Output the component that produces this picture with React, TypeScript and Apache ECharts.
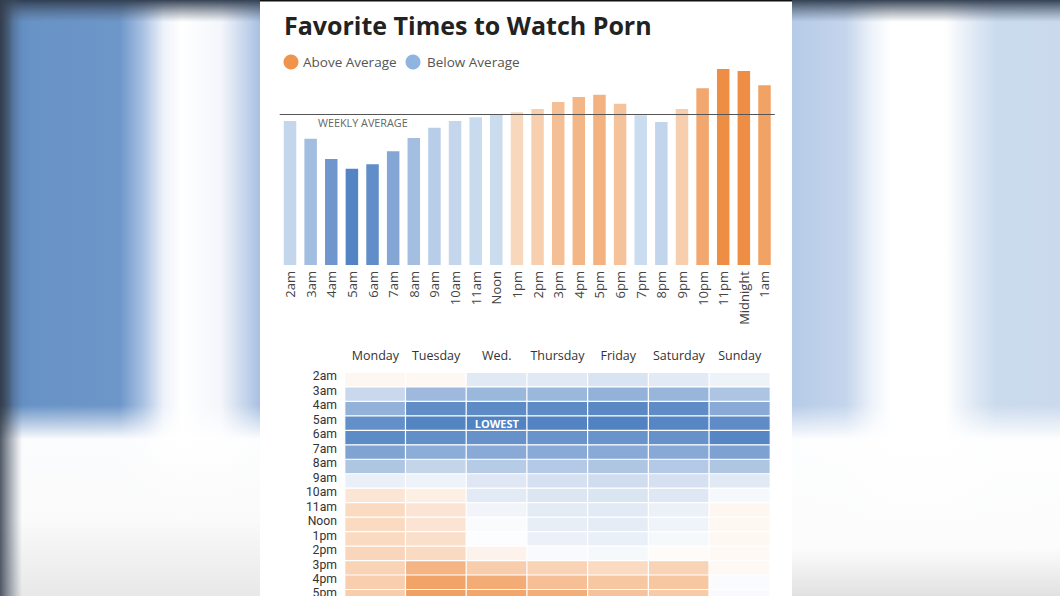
import React, { useEffect, useRef } from "react";
import * as echarts from "echarts";

const hours = ["2am","3am","4am","5am","6am","7am","8am","9am","10am","11am","Noon","1pm","2pm","3pm","4pm","5pm","6pm","7pm","8pm","9pm","10pm","11pm","Midnight","1am"];
const hourlyIndex = [95.6,83.8,70.3,63.9,66.8,75.4,84.3,91.1,95.6,98.0,99.6,101.3,103.5,108.2,111.5,113.0,107.0,99.4,94.9,103.5,117.3,130.1,128.7,119.2];
const weeklyAverage = 100;

const days = ["Monday","Tuesday","Wed.","Thursday","Friday","Saturday","Sunday"];
const heatRows = ["2am","3am","4am","5am","6am","7am","8am","9am","10am","11am","Noon","1pm","2pm","3pm","4pm","5pm"];
const heatValues = [
  [8, 6, -18, -18, -22, -17, -10],
  [-31, -56, -58, -58, -62, -59, -47],
  [-62, -91, -93, -93, -95, -92, -68],
  [-89, -98, -100, -99, -100, -97, -92],
  [-93, -90, -88, -86, -86, -88, -97],
  [-73, -66, -68, -68, -68, -69, -75],
  [-46, -34, -42, -43, -46, -43, -46],
  [-12, -10, -19, -24, -27, -24, -18],
  [21, 14, -17, -20, -21, -19, -5],
  [32, 23, -8, -16, -17, -11, 7],
  [32, 23, -3, -14, -15, -9, 6],
  [32, 27, -2, -11, -12, -5, 6],
  [35, 32, 10, -4, -5, 3, 5],
  [38, 64, 43, 38, 32, 38, 5],
  [42, 78, 71, 55, 48, 48, -3],
  [43, 81, 76, 70, 52, 45, -4],
];
const lowestLabel = "LOWEST";

const FONT = "'Open Sans', sans-serif";
const ROW_FONT = "Roboto, sans-serif";
const H = 620;

function mix(a: number[], b: number[], t: number) {
  const c = a.map((v, i) => Math.round(v + (b[i] - v) * t));
  return `rgb(${c[0]},${c[1]},${c[2]})`;
}
function barColor(v: number) {
  if (v < weeklyAverage) {
    const t = Math.pow(Math.min(1, (weeklyAverage - v) / 36), 1.3);
    return mix([203, 220, 239], [85, 132, 196], t);
  }
  const t = Math.pow(Math.min(1, (v - weeklyAverage) / 28), 0.75);
  return mix([249, 224, 203], [238, 142, 68], t);
}

export default function App() {
  const ref = useRef<HTMLDivElement>(null);
  useEffect(() => {
    const chart = echarts.init(ref.current!, undefined, { renderer: "svg" });
    const heatData: any[] = [];
    heatValues.forEach((row, r) =>
      row.forEach((v, c) => {
        const isLowest = r === 3 && c === 2;
        heatData.push(
          isLowest
            ? {
                value: [c, r, v],
                label: {
                  show: true,
                  formatter: lowestLabel,
                  color: "#fff",
                  fontWeight: "bold",
                  fontSize: 11,
                  lineHeight: 13,
                  fontFamily: FONT,
                },
              }
            : { value: [c, r, v] }
        );
      })
    );
    const hGrad = (stops: [number, string][]) => ({
      type: "linear", x: 0, y: 0, x2: 1, y2: 0,
      colorStops: stops.map(([o, c]) => ({ offset: o, color: c })),
    });
    const vGrad = (stops: [number, string][]) => ({
      type: "linear", x: 0, y: 0, x2: 0, y2: 1,
      colorStops: stops.map(([o, c]) => ({ offset: o, color: c })),
    });
    chart.setOption({
      animation: false,
      backgroundColor: "#ffffff",
      graphic: [
        { type: "rect", z: -10, shape: { x: 0, y: 0, width: 260, height: H }, style: { fill: hGrad([[0, "#34465c"], [0.05, "#5f89bd"], [0.12, "#6893c6"], [0.46, "#6d96c9"], [0.55, "#a9c1e2"], [0.63, "#eef3fa"], [0.7, "#ffffff"], [0.85, "#f3f6fb"], [1, "#a8c0e2"]]) } },
        { type: "rect", z: -10, shape: { x: 792, y: 0, width: 268, height: H }, style: { fill: hGrad([[0, "#b6cbe8"], [0.2, "#c4d5ec"], [0.3, "#eef3fa"], [0.37, "#ffffff"], [0.57, "#ffffff"], [0.68, "#dfe8f4"], [0.76, "#cbdbee"], [1, "#cad9ec"]]) } },
        { type: "rect", z: -9, shape: { x: 0, y: 405, width: 260, height: 191 }, style: { fill: vGrad([[0, "rgba(255,255,255,0)"], [0.18, "rgba(255,255,255,0.97)"], [0.6, "rgba(250,250,250,1)"], [1, "rgba(232,232,232,1)"]]) } },
        { type: "rect", z: -9, shape: { x: 792, y: 405, width: 268, height: 191 }, style: { fill: vGrad([[0, "rgba(255,255,255,0)"], [0.18, "rgba(255,255,255,0.97)"], [0.75, "rgba(252,252,252,1)"], [1, "rgba(225,225,225,1)"]]) } },
        { type: "rect", z: -8, shape: { x: 0, y: 0, width: 1060, height: 22 }, style: { fill: vGrad([[0, "rgba(45,58,76,0.95)"], [1, "rgba(80,95,115,0)"]]) } },
        { type: "rect", z: -8, shape: { x: 0, y: 0, width: 22, height: H }, style: { fill: hGrad([[0, "rgba(50,60,75,0.85)"], [1, "rgba(80,95,115,0)"]]) } },
        { type: "rect", z: -5, shape: { x: 260, y: 0, width: 532, height: H }, style: { fill: "#ffffff" } },
        { type: "rect", z: -4, shape: { x: 260, y: 0, width: 532, height: 1.5 }, style: { fill: "#111" } },
        { type: "text", z: 10, x: 284, y: 25, style: { text: "Favorite Times to Watch Porn", font: `bold 25px ${FONT}`, fill: "#222", verticalAlign: "middle" } },
        { type: "circle", z: 10, shape: { cx: 291, cy: 62, r: 7.5 }, style: { fill: "#f0944d" } },
        { type: "text", z: 10, x: 303, y: 62, style: { text: "Above Average", font: `13.5px ${FONT}`, fill: "#555", verticalAlign: "middle" } },
        { type: "circle", z: 10, shape: { cx: 413, cy: 62, r: 7.5 }, style: { fill: "#8fb4e0" } },
        { type: "text", z: 10, x: 427, y: 62, style: { text: "Below Average", font: `13.5px ${FONT}`, fill: "#555", verticalAlign: "middle" } },
        { type: "text", z: 10, x: 318, y: 122, style: { text: "WEEKLY AVERAGE", font: `10.8px ${FONT}`, fill: "#666", verticalAlign: "middle" } },
      ],
      grid: [
        { left: 279.7, width: 495.1, top: 54, height: 211, containLabel: false },
        { left: 345, width: 425, top: 372.7, height: 231.5, containLabel: false },
      ],
      xAxis: [
        {
          type: "category", gridIndex: 0, data: hours,
          axisLine: { show: false }, axisTick: { show: false },
          axisLabel: { rotate: 90, margin: 6, fontSize: 13, color: "#444", fontFamily: FONT, interval: 0 },
        },
        {
          type: "category", gridIndex: 1, data: days, position: "top",
          axisLine: { show: false }, axisTick: { show: false }, splitLine: { show: false },
          axisLabel: { margin: 11, fontSize: 12.5, color: "#333", fontFamily: FONT, interval: 0 },
        },
      ],
      yAxis: [
        { type: "value", gridIndex: 0, min: 0, max: 140, show: false, splitLine: { show: false } },
        {
          type: "category", gridIndex: 1, data: heatRows, inverse: true,
          axisLine: { show: false }, axisTick: { show: false }, splitLine: { show: false },
          axisLabel: { margin: 8, fontSize: 12.2, lineHeight: 7, verticalAlign: "bottom", color: "#333", fontFamily: ROW_FONT, interval: 0 },
        },
      ],
      visualMap: {
        show: false, type: "continuous", seriesIndex: 1, dimension: 2,
        min: -100, max: 100,
        inRange: { color: ["#5182c2", "#ffffff", "#ee8a3e"] },
      },
      series: [
        {
          type: "bar", xAxisIndex: 0, yAxisIndex: 0, data: hourlyIndex, barWidth: 12.5,
          itemStyle: { color: (p: any) => barColor(p.value) },
          markLine: {
            silent: true, symbol: "none",
            lineStyle: { color: "#555", width: 1.2, type: "solid" },
            label: { show: false },
            data: [{ yAxis: weeklyAverage }],
          },
        },
        {
          type: "heatmap", xAxisIndex: 1, yAxisIndex: 1, data: heatData,
          itemStyle: { borderColor: "#ffffff", borderWidth: 1.2 },
        },
      ],
    });
    return () => chart.dispose();
  }, []);
  return (
    <div
      ref={ref}
      style={{ position: "fixed", left: 0, top: 0, width: 1060, height: H }}
    />
  );
}
